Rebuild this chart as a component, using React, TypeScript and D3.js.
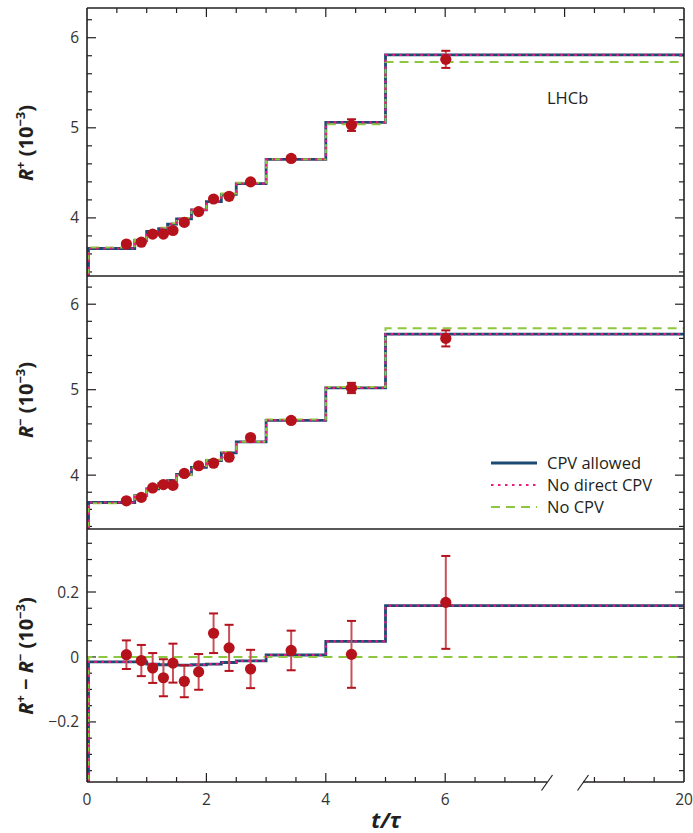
import * as d3 from "d3";
import React, { useEffect, useRef } from "react";

// bin edges in t/tau (last bin runs to 20, beyond the axis break)
const binEdges = [0, 0.8, 1.0, 1.2, 1.35, 1.5, 1.75, 2.0, 2.25, 2.5, 3, 4, 5, 20];
const pointT = [0.66, 0.91, 1.1, 1.28, 1.44, 1.63, 1.87, 2.12, 2.38, 2.74, 3.42, 4.43, 6.01];

// R+ panel
const rPlus = [3.71, 3.73, 3.82, 3.82, 3.86, 3.95, 4.07, 4.21, 4.24, 4.4, 4.66, 5.03, 5.76];
const rPlusErr = [0.02, 0.02, 0.02, 0.02, 0.02, 0.02, 0.02, 0.02, 0.02, 0.02, 0.025, 0.065, 0.095];
const rPlusCpv = [3.66, 3.75, 3.85, 3.88, 3.93, 3.99, 4.09, 4.18, 4.26, 4.38, 4.65, 5.06, 5.81];
const rPlusNoDirect = [3.66, 3.75, 3.85, 3.88, 3.93, 3.99, 4.09, 4.18, 4.26, 4.38, 4.65, 5.06, 5.81];
const rPlusNoCpv = [3.67, 3.76, 3.85, 3.89, 3.94, 4.0, 4.09, 4.18, 4.27, 4.39, 4.65, 5.04, 5.73];

// R- panel
const rMinus = [3.7, 3.74, 3.85, 3.89, 3.88, 4.02, 4.11, 4.14, 4.21, 4.44, 4.64, 5.02, 5.6];
const rMinusErr = [0.02, 0.02, 0.02, 0.02, 0.02, 0.02, 0.02, 0.02, 0.02, 0.02, 0.025, 0.06, 0.094];
const rMinusCpv = [3.68, 3.76, 3.84, 3.9, 3.94, 4.01, 4.09, 4.17, 4.26, 4.39, 4.64, 5.02, 5.65];
const rMinusNoDirect = [3.68, 3.76, 3.84, 3.9, 3.94, 4.01, 4.09, 4.17, 4.26, 4.39, 4.64, 5.02, 5.65];
const rMinusNoCpv = [3.67, 3.76, 3.85, 3.89, 3.94, 4.0, 4.09, 4.18, 4.27, 4.39, 4.65, 5.03, 5.72];

// R+ - R- panel
const rDiff = [0.007, -0.011, -0.034, -0.064, -0.019, -0.075, -0.046, 0.073, 0.028, -0.037, 0.02, 0.008, 0.168];
const rDiffErr = [0.044, 0.048, 0.046, 0.057, 0.06, 0.049, 0.055, 0.061, 0.071, 0.059, 0.061, 0.103, 0.143];
const rDiffCpv = [-0.015, -0.015, -0.022, -0.024, -0.024, -0.025, -0.024, -0.022, -0.017, -0.012, 0.006, 0.048, 0.158];
const rDiffNoDirect = [-0.015, -0.015, -0.022, -0.024, -0.024, -0.025, -0.024, -0.022, -0.017, -0.012, 0.006, 0.048, 0.158];
const rDiffNoCpv = [0, 0, 0, 0, 0, 0, 0, 0, 0, 0, 0, 0, 0];

const xTickValues = [0, 2, 4, 6, 10];
const xTickLabels = ["0", "2", "4", "6", "20"];
const legendLabels = ["CPV allowed", "No direct CPV", "No CPV"];

const W = 693;
const H = 833;
const FONT = "'Open Sans', 'DejaVu Sans', sans-serif";
const INK = "#231f20";
const RED = "#b5121b";

const models = [
  { key: "cpv", color: "#1b4a72", width: 2.8, dash: null },
  { key: "noCpv", color: "#8dc63f", width: 2, dash: "9,6" },
  { key: "noDirect", color: "#ea1a80", width: 2.2, dash: "2.5,4.5" },
];

const App: React.FC = () => {
  const svgRef = useRef<SVGSVGElement>(null);

  useEffect(() => {
    if (!svgRef.current) return;
    const svg = d3.select(svgRef.current);
    svg.selectAll("*").remove();

    const left = 87;
    const right = 684;
    const breakA = 547;
    const breakB = 583;

    // axis runs 0..10 in screen units; the last edge (20) is clamped to the right border
    const x = d3.scaleLinear().domain([0, 10]).range([left, right]).clamp(true);

    const panels = [
      {
        top: 8, bottom: 276, domain: [3.355, 6.33],
        data: rPlus, err: rPlusErr, cpv: rPlusCpv, noDirect: rPlusNoDirect, noCpv: rPlusNoCpv,
        minorStep: 0.2, major: [4, 5, 6], fmt: (d: number) => String(d),
        title: "plus", titleY: 143,
      },
      {
        top: 276, bottom: 529, domain: [3.37, 6.33],
        data: rMinus, err: rMinusErr, cpv: rMinusCpv, noDirect: rMinusNoDirect, noCpv: rMinusNoCpv,
        minorStep: 0.2, major: [4, 5, 6], fmt: (d: number) => String(d),
        title: "minus", titleY: 400,
      },
      {
        top: 529, bottom: 782, domain: [-0.385, 0.394],
        data: rDiff, err: rDiffErr, cpv: rDiffCpv, noDirect: rDiffNoDirect, noCpv: rDiffNoCpv,
        minorStep: 0.05, major: [-0.2, 0, 0.2],
        fmt: (d: number) => (d < 0 ? "\u2212" + Math.abs(d) : String(d)),
        title: "diff", titleY: 656,
      },
    ];

    const defs = svg.append("defs");

    panels.forEach((p, pi) => {
      const y = d3.scaleLinear().domain(p.domain).range([p.bottom, p.top]);
      const g = svg.append("g");

      defs
        .append("clipPath")
        .attr("id", `clip-${pi}`)
        .append("rect")
        .attr("x", left)
        .attr("y", p.top)
        .attr("width", right - left)
        .attr("height", p.bottom - p.top);

      // y ticks, both sides, pointing inward
      const minor = d3.range(
        Math.ceil(p.domain[0] / p.minorStep - 1e-6) * p.minorStep,
        p.domain[1],
        p.minorStep,
      );
      minor.forEach((v) => {
        const isMajor = p.major.some((m) => Math.abs(m - v) < 1e-6);
        const len = isMajor ? 9 : 5;
        const yy = y(v);
        if (yy < p.top + 1 || yy > p.bottom - 1) return;
        g.append("line")
          .attr("x1", left).attr("x2", left + len)
          .attr("y1", yy).attr("y2", yy)
          .attr("stroke", INK).attr("stroke-width", 1.2);
        g.append("line")
          .attr("x1", right).attr("x2", right - len)
          .attr("y1", yy).attr("y2", yy)
          .attr("stroke", INK).attr("stroke-width", 1.2);
      });

      g.selectAll(".ylab")
        .data(p.major)
        .join("text")
        .attr("x", 79)
        .attr("y", (d) => y(d))
        .attr("dy", "0.36em")
        .attr("text-anchor", "end")
        .attr("font-family", FONT)
        .attr("font-size", 15.5)
        .attr("fill", "#333")
        .text((d) => p.fmt(d));

      // model step lines
      const lines = g.append("g").attr("clip-path", `url(#clip-${pi})`);
      models.forEach((m) => {
        const levels = (p as any)[m.key] as number[];
        const pts: [number, number][] = [[0, p.domain[0]]];
        levels.forEach((lv, i) => {
          pts.push([binEdges[i], lv]);
          pts.push([binEdges[i + 1], lv]);
        });
        const line = d3
          .line<[number, number]>()
          .x((d) => x(d[0]) + (d[0] === 0 ? 1.5 : 0))
          .y((d) => y(d[1]));
        lines
          .append("path")
          .attr("d", line(pts) || "")
          .attr("fill", "none")
          .attr("stroke", m.color)
          .attr("stroke-width", m.width)
          .attr("stroke-dasharray", m.dash)
          .attr("stroke-linejoin", "miter");
      });

      // data points with error bars
      const pts = g.append("g");
      p.data.forEach((v, i) => {
        const cx = x(pointT[i]);
        const e = p.err[i];
        pts.append("line")
          .attr("x1", cx).attr("x2", cx)
          .attr("y1", y(v - e)).attr("y2", y(v + e))
          .attr("stroke", "#c8505a").attr("stroke-width", 2);
        [v - e, v + e].forEach((ev) => {
          pts.append("line")
            .attr("x1", cx - 4.5).attr("x2", cx + 4.5)
            .attr("y1", y(ev)).attr("y2", y(ev))
            .attr("stroke", RED).attr("stroke-width", 2);
        });
        pts.append("circle")
          .attr("cx", cx).attr("cy", y(v))
          .attr("r", 5.6)
          .attr("fill", RED);
      });

      // y axis titles
      const t = svg
        .append("text")
        .attr("transform", `translate(33,${p.titleY}) rotate(-90)`)
        .attr("text-anchor", "middle")
        .attr("font-family", FONT)
        .attr("font-weight", "bold")
        .attr("font-size", 20)
        .attr("fill", INK);
      const sup = (txt: string) =>
        t.append("tspan").attr("dy", -8).attr("font-size", 13).text(txt);
      const base = (txt: string) => t.append("tspan").attr("dy", 8).text(txt);
      t.append("tspan").attr("font-style", "italic").text("R");
      if (p.title === "plus") {
        sup("+");
        base(" (10");
      } else if (p.title === "minus") {
        sup("\u2212");
        base(" (10");
      } else {
        sup("+");
        base(" \u2212 ");
        t.append("tspan").attr("font-style", "italic").text("R");
        sup("\u2212");
        base(" (10");
      }
      sup("\u22123");
      base(")");
    });

    // frame
    const frame = svg.append("g").attr("stroke", INK).attr("stroke-width", 1.6);
    frame.append("line").attr("x1", left).attr("x2", left).attr("y1", 8).attr("y2", 782);
    frame.append("line").attr("x1", right).attr("x2", right).attr("y1", 8).attr("y2", 782);
    [8, 276, 529].forEach((yy) => {
      frame.append("line").attr("x1", left).attr("x2", right).attr("y1", yy).attr("y2", yy);
    });
    frame.append("line").attr("x1", left).attr("x2", breakA).attr("y1", 782).attr("y2", 782);
    frame.append("line").attr("x1", breakB).attr("x2", right).attr("y1", 782).attr("y2", 782);
    [breakA, breakB].forEach((bx) => {
      frame.append("line")
        .attr("x1", bx - 5.5).attr("y1", 790.5)
        .attr("x2", bx + 5.5).attr("y2", 775)
        .attr("stroke-width", 1.2);
    });

    // x ticks: top edge and bottom edge, pointing inward
    const xt = d3.range(0.5, 10, 0.5);
    xt.forEach((v) => {
      const isMajor = Math.abs(v % 2) < 1e-6;
      const len = isMajor ? 9 : 5;
      const xx = x(v);
      frame.append("line")
        .attr("x1", xx).attr("x2", xx).attr("y1", 8).attr("y2", 8 + len)
        .attr("stroke-width", 1.2);
      if (xx > breakA - 3 && xx < breakB + 3) return;
      frame.append("line")
        .attr("x1", xx).attr("x2", xx).attr("y1", 782).attr("y2", 782 - len)
        .attr("stroke-width", 1.2);
    });

    svg.append("g")
      .selectAll("text")
      .data(xTickValues)
      .join("text")
      .attr("x", (d) => x(d))
      .attr("y", 805)
      .attr("text-anchor", "middle")
      .attr("font-family", FONT)
      .attr("font-size", 15.5)
      .attr("fill", "#333")
      .text((d, i) => xTickLabels[i]);

    svg
      .append("text")
      .attr("x", 386)
      .attr("y", 828)
      .attr("text-anchor", "middle")
      .attr("font-family", FONT)
      .attr("font-weight", "bold")
      .attr("font-style", "italic")
      .attr("font-size", 22)
      .attr("fill", INK)
      .text("t/\u03c4");

    // LHCb label
    svg.append("text")
      .attr("x", 547)
      .attr("y", 104)
      .attr("font-family", FONT)
      .attr("font-size", 16.5)
      .attr("fill", INK)
      .text("LHCb");

    // legend
    const legend = svg
      .append("g")
      .selectAll("g")
      .data(legendLabels)
      .join("g")
      .attr("transform", (d, i) => `translate(491,${463 + i * 22})`);
    const legendStyle = [models[0], models[2], models[1]];
    legend
      .append("line")
      .attr("x1", 0)
      .attr("x2", 46)
      .attr("stroke", (d, i) => legendStyle[i].color)
      .attr("stroke-width", (d, i) => legendStyle[i].width)
      .attr("stroke-dasharray", (d, i) => legendStyle[i].dash);
    legend
      .append("text")
      .attr("x", 56)
      .attr("dy", "0.35em")
      .attr("font-family", FONT)
      .attr("font-size", 16.5)
      .attr("fill", INK)
      .text((d) => d);
  }, []);

  return (
    <svg
      ref={svgRef}
      width={W}
      height={H}
      style={{ position: "absolute", left: 0, top: 0, background: "#fff" }}
    />
  );
};

export default App;
